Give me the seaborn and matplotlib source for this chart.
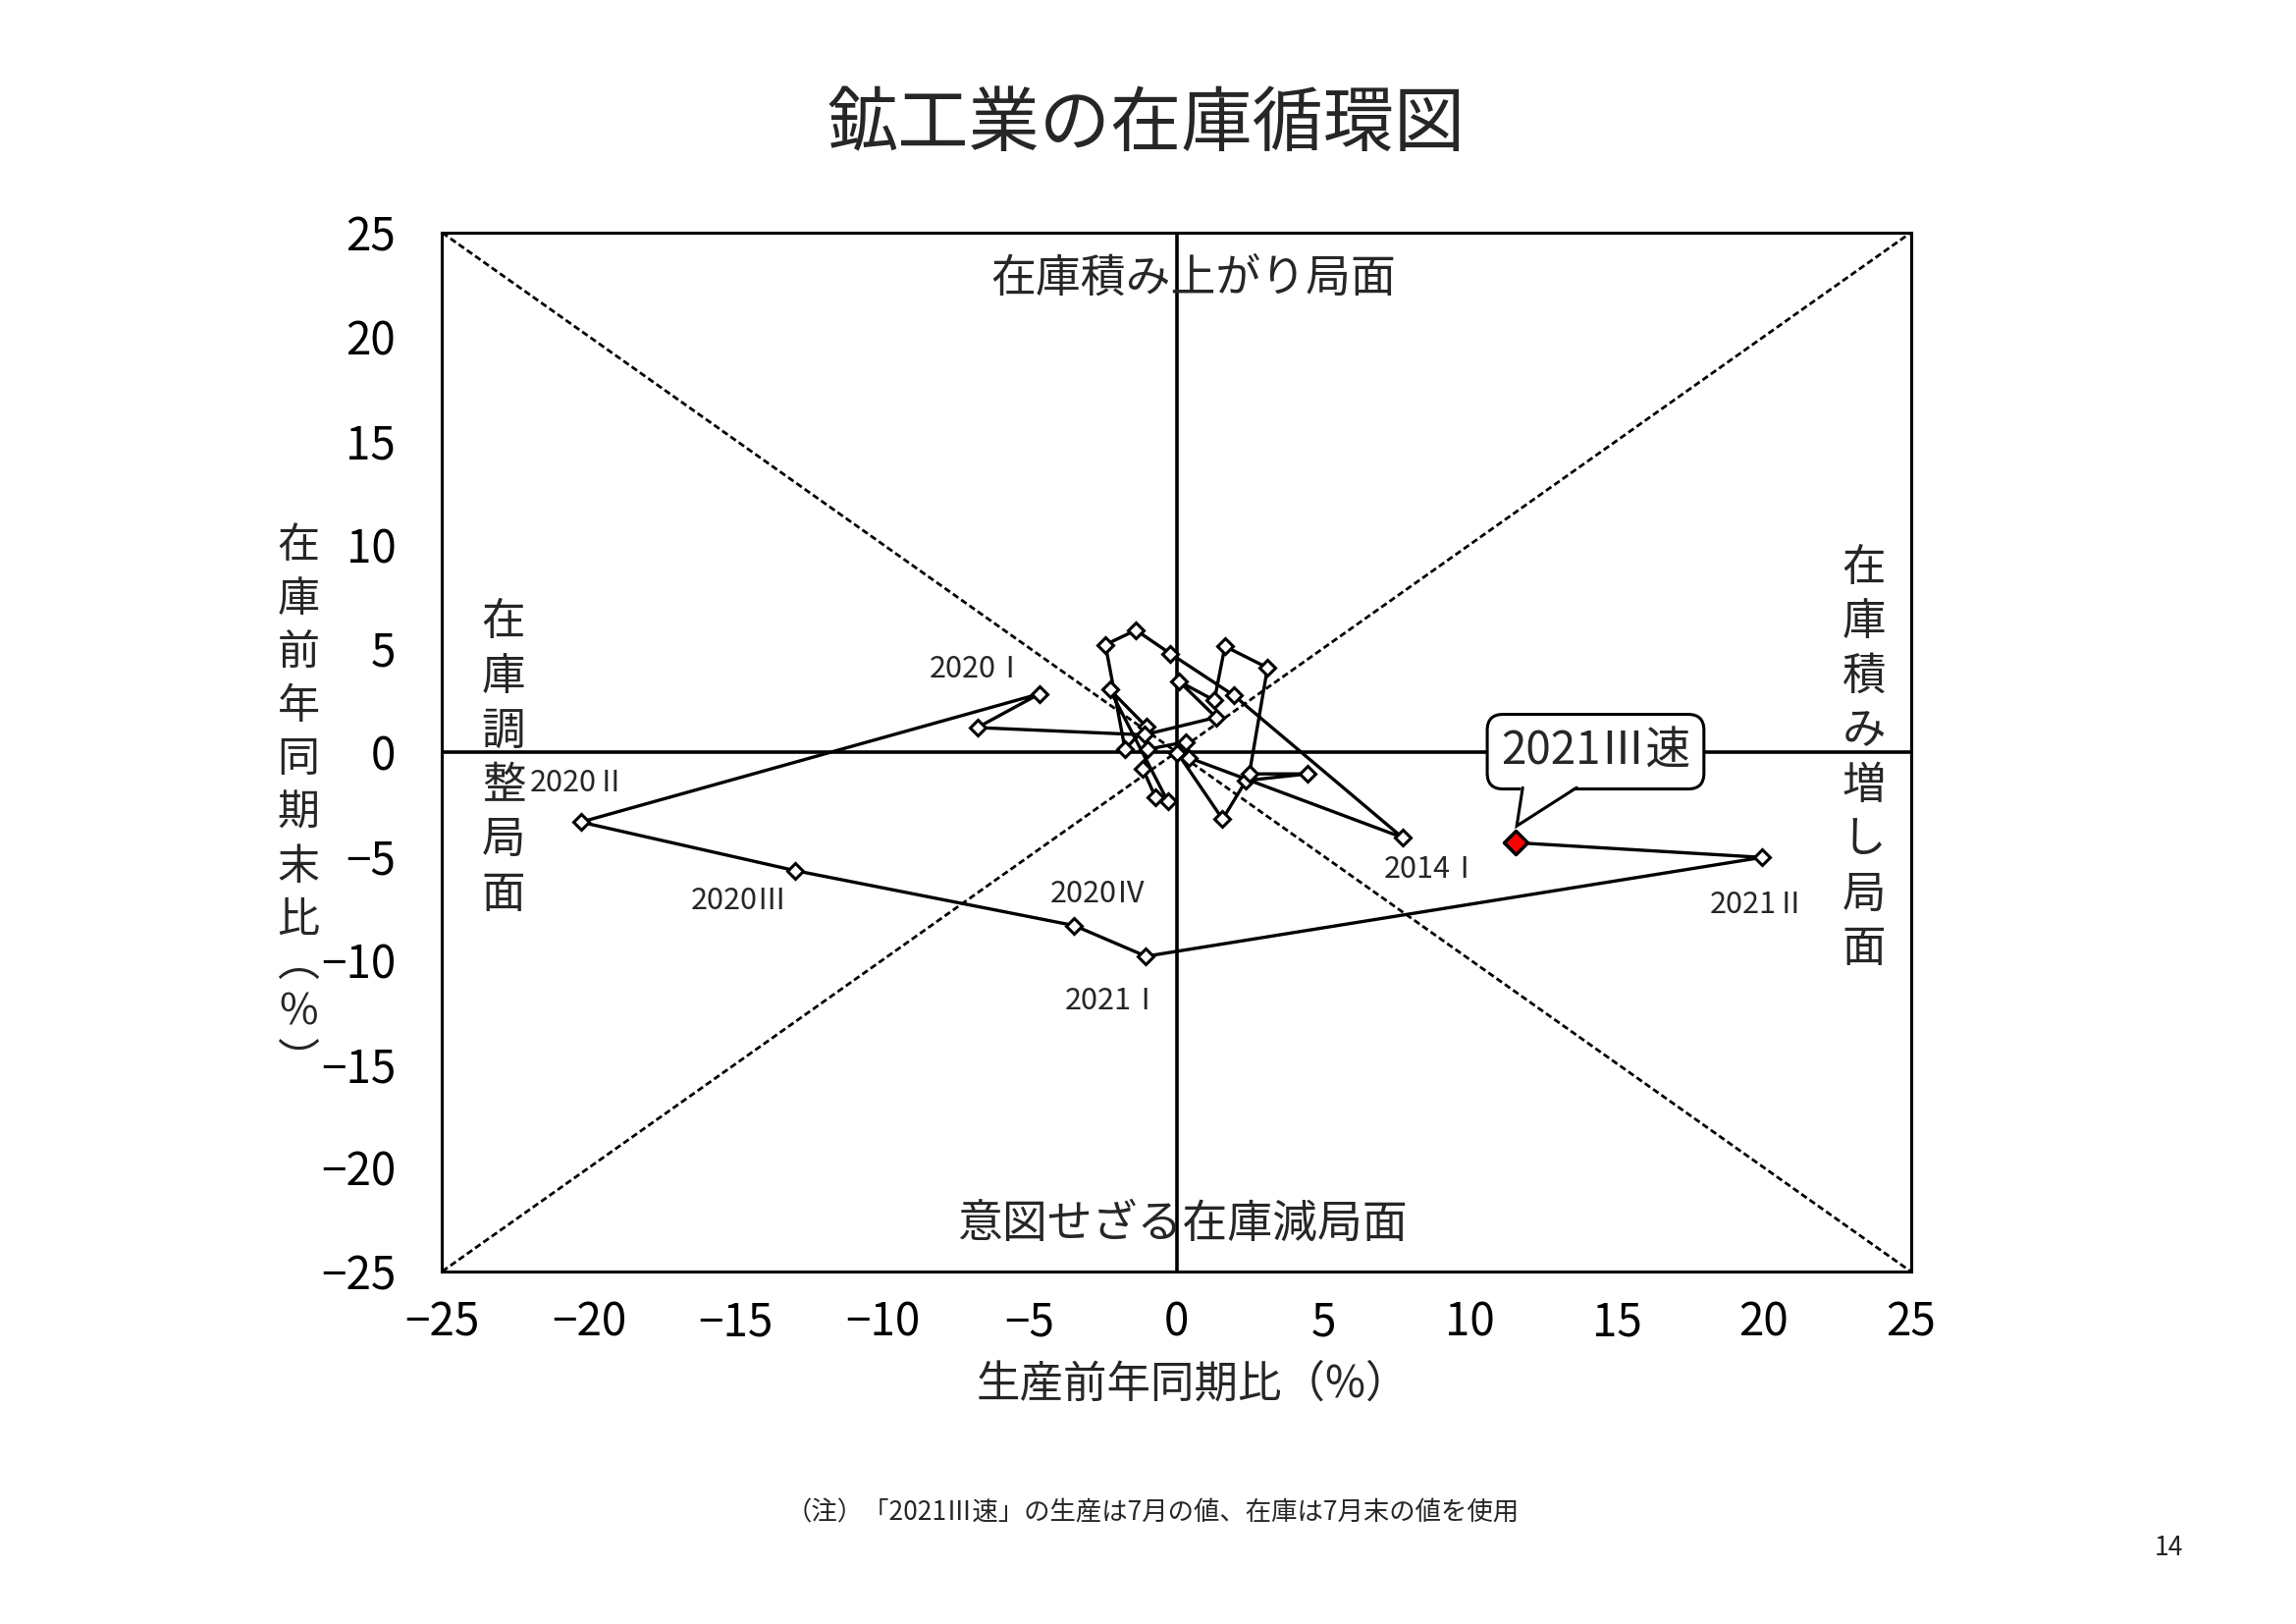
import matplotlib
matplotlib.use("Agg")
import matplotlib.pyplot as plt
import matplotlib.transforms as mtransforms
from matplotlib.patches import Polygon
from matplotlib.lines import Line2D
import seaborn as sns
import pandas as pd

# ---------------- data ----------------
production = [0.42, 7.69, 1.96, -0.21, -1.38, -2.42, -1.75, -1.03, -2.27, -0.30,
              -0.71, -1.14, -0.99, 0.31, 0.03, 1.57, 2.37, 4.46, 2.48, 3.10,
              1.65, 1.29, 0.09, 1.35, -1.10, -6.78, -4.67, -20.28, -13.00, -3.48,
              -1.04, 19.94, 11.54]
inventory = [-0.27, -4.11, 2.72, 4.74, 5.87, 5.17, 0.13, 1.23, 3.01, -2.36,
             -2.19, -0.82, 0.13, 0.49, -0.03, -3.23, -1.37, -1.05, -1.05, 4.06,
             5.09, 2.49, 3.40, 1.67, 0.83, 1.18, 2.80, -3.37, -5.70, -8.35,
             -9.83, -5.07, -4.36]

label_texts = ["2014Ⅰ", "2020Ⅰ", "2020Ⅱ", "2020Ⅲ", "2020Ⅳ", "2021Ⅰ", "2021Ⅱ"]
label_index = [1, 26, 27, 28, 29, 30, 31]
label_offset = [(1.02, -1.56), (-2.10, 1.17), (-0.09, 1.86), (-1.89, -1.44),
                (0.82, 1.54), (-1.12, -2.13), (-0.14, -2.26)]
latest_text = "2021Ⅲ速"

axis_limits = [-25, 25]
tick_values = [-25, -20, -15, -10, -5, 0, 5, 10, 15, 20, 25]

title = "鉱工業の在庫循環図"
xlabel = "生産前年同期比（%）"
ylabel_main = ["在", "庫", "前", "年", "同", "期", "末", "比"]
ylabel_unit = "︵\n%\n︶"
q_top = "在庫積み上がり局面"
q_bottom = "意図せざる在庫減局面"
q_left = "在庫調整局面"
q_right = "在庫積み増し局面"
note = "（注）「2021Ⅲ速」の生産は7月の値、在庫は7月末の値を使用"
page = "14"

# ---------------- style ----------------
sns.set_theme(style="white")
plt.rcParams["font.family"] = ["Noto Sans CJK JP", "DejaVu Sans"]
plt.rcParams["axes.unicode_minus"] = True

fig = plt.figure(figsize=(23.39, 16.54), dpi=100)
ax = fig.add_axes([0.1926, 0.2171, 0.6396, 0.6396])

df = pd.DataFrame({"prod": production, "inv": inventory})

# diagonal guide lines and zero axes
ax.plot(axis_limits, axis_limits[::-1], color="black", lw=2.0,
        ls=(0, (2.4, 1.3)), zorder=1)
ax.plot(axis_limits, axis_limits, color="black", lw=2.0,
        ls=(0, (2.4, 1.3)), zorder=1)
ax.axhline(0, color="black", lw=2.6, zorder=1)
ax.axvline(0, color="black", lw=2.6, zorder=1)

sns.lineplot(data=df, x="prod", y="inv", sort=False, estimator=None, ax=ax,
             color="black", lw=2.4, marker="D", markersize=8.5,
             markerfacecolor="white", markeredgecolor="black",
             markeredgewidth=2.2, zorder=3)

last = df.iloc[[-1]]
sns.scatterplot(data=last, x="prod", y="inv", ax=ax, marker="D", s=150,
                color="#ff0000", edgecolor="black", linewidth=2.5, zorder=5)

for txt, idx, (dx, dy) in zip(label_texts, label_index, label_offset):
    ax.text(production[idx] + dx, inventory[idx] + dy, txt, fontsize=22,
            ha="center", va="center", zorder=6)

# callout box for the latest (preliminary) point
ax.text(14.27, 0.02, latest_text, fontsize=33, ha="center", va="center",
        zorder=7,
        bbox=dict(boxstyle="round,pad=0.3,rounding_size=0.35",
                  fc="white", ec="black", lw=2.2))
# callout tail (pixel offsets relative to the latest point)
anchor = mtransforms.Affine2D() + mtransforms.ScaledTranslation(
    production[-1], inventory[-1], ax.transData)
ax.add_patch(Polygon([(6.0, 59.0), (64.0, 59.0), (1.4, 17.0)], closed=True,
                     fc="white", ec="none", transform=anchor, zorder=8,
                     clip_on=False))
ax.add_line(Line2D([7.4, 1.4, 62.4], [56.0, 17.0, 56.0], color="black",
                   lw=2.2, transform=anchor, zorder=9, clip_on=False,
                   solid_joinstyle="miter"))

ax.set_xlim(axis_limits)
ax.set_ylim(axis_limits)
ax.set_xticks(tick_values)
ax.set_yticks(tick_values)
ax.tick_params(axis="both", length=0, labelsize=33, colors="black")
ax.tick_params(axis="x", pad=20)
ax.tick_params(axis="y", pad=34)
for s in ax.spines.values():
    s.set_color("black")
    s.set_linewidth(2.2)
    s.set_visible(True)

ax.set_xlabel(xlabel, fontsize=32, va="center")
ax.xaxis.set_label_coords(0.511, -0.1087)
ax.set_ylabel("")

# quadrant labels
ax.text(0.5117, 0.9565, q_top, transform=ax.transAxes, fontsize=33,
        ha="center", va="center")
ax.text(0.504, 0.0454, q_bottom, transform=ax.transAxes, fontsize=33,
        ha="center", va="center")

step = 0.0525
def vertical(chars, x, yc):
    n = len(chars)
    for i, ch in enumerate(chars):
        ax.text(x, yc + (n - 1) / 2 * step - i * step, ch, transform=ax.transAxes,
                fontsize=32, ha="center", va="center")

vertical(list(q_left), 0.0418, 0.4943)
vertical(list(q_right), 0.9682, 0.4943)

# vertical y label (figure coordinates)
ylx = 0.1300
y = 1 - 556 / 1654
ystep = 54.6 / 1654
for ch in ylabel_main:
    fig.text(ylx, y, ch, fontsize=31, ha="center", va="center")
    y -= ystep
fig.text(ylx, 1 - 1032 / 1654, ylabel_unit, fontsize=31, ha="center",
         va="center", linespacing=1.17, multialignment="center")

fig.text(0.4994, 0.923, title, fontsize=52, ha="center", va="center")
fig.text(0.502, 0.0683, note, fontsize=19, ha="center", va="center")
fig.text(0.9444, 0.0466, page, fontsize=19, ha="center", va="center")

fig.savefig("out.png", dpi=100, facecolor="white")
